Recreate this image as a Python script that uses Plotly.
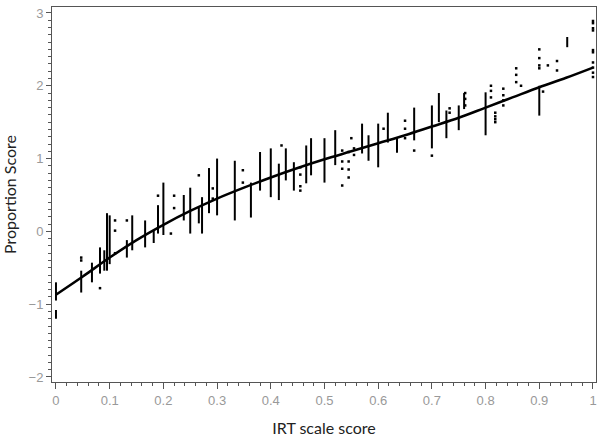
import plotly.graph_objects as go

# fitted curve
curve_x = [0, 0.05, 0.1, 0.15, 0.2, 0.25, 0.3, 0.35, 0.4, 0.45, 0.5,
           0.55, 0.6, 0.65, 0.7, 0.75, 0.8, 0.85, 0.9, 0.95, 1.0]
curve_y = [-0.87, -0.62, -0.36, -0.12, 0.09, 0.28, 0.45, 0.60, 0.74, 0.87, 0.99,
           1.10, 1.21, 1.32, 1.44, 1.56, 1.70, 1.84, 1.98, 2.11, 2.25]

# dense columns of observations: x, lowest y, highest y
col_x = [0.0, 0.0, 0.047, 0.067, 0.082, 0.09, 0.095, 0.1, 0.132, 0.142,
         0.166, 0.182, 0.19, 0.2, 0.238, 0.25, 0.266, 0.272, 0.285, 0.3,
         0.333, 0.363, 0.38, 0.4, 0.415, 0.428, 0.443, 0.466, 0.475, 0.5,
         0.52, 0.57, 0.582, 0.6, 0.618, 0.635, 0.667, 0.7, 0.713, 0.727,
         0.75, 0.76, 0.8, 0.9, 0.952]
col_lo = [-0.95, -1.20, -0.84, -0.70, -0.58, -0.54, -0.54, -0.45, -0.36, -0.26,
          -0.22, -0.16, -0.03, -0.05, 0.15, -0.03, 0.11, -0.03, 0.25, 0.22,
          0.15, 0.19, 0.56, 0.47, 0.43, 0.70, 0.56, 0.66, 0.77, 0.67,
          0.91, 1.07, 0.97, 0.88, 1.22, 1.08, 1.25, 1.14, 1.50, 1.28,
          1.39, 1.68, 1.32, 1.59, 2.53]
col_hi = [-0.70, -1.08, -0.54, -0.43, -0.22, -0.26, 0.25, 0.22, -0.12, 0.22,
          0.15, 0.01, 0.36, 0.67, 0.50, 0.60, 0.33, 0.47, 0.87, 1.00,
          0.97, 0.67, 1.09, 1.14, 0.93, 1.14, 0.95, 1.18, 1.28, 1.28,
          1.39, 1.48, 1.32, 1.48, 1.63, 1.29, 1.70, 1.73, 1.90, 1.66,
          1.73, 1.90, 1.91, 2.00, 2.67]

# scattered single observations
pts_x = [0.047, 0.047, 0.082, 0.11, 0.11, 0.11, 0.132, 0.19, 0.214, 0.22,
         0.22, 0.266, 0.292, 0.292, 0.348, 0.348, 0.42, 0.455, 0.455, 0.455,
         0.455, 0.533, 0.533, 0.533, 0.533, 0.545, 0.545, 0.545, 0.545, 0.55,
         0.555, 0.555, 0.61, 0.65, 0.65, 0.65, 0.667, 0.7, 0.733, 0.733,
         0.762, 0.762, 0.762, 0.81, 0.81, 0.81, 0.818, 0.818, 0.818, 0.818,
         0.833, 0.833, 0.833, 0.833, 0.857, 0.857, 0.857, 0.866, 0.9, 0.9,
         0.9, 0.9, 0.907, 0.916, 0.933, 0.933, 1.0, 1.0, 1.0, 1.0,
         1.0, 1.0, 1.0, 1.0, 1.0, 1.0]
pts_y = [-0.36, -0.40, -0.78, 0.15, 0.01, -0.30, 0.15, 0.49, -0.03, 0.49,
         0.32, 0.77, 0.59, 0.45, 0.84, 0.67, 1.18, 0.88, 0.78, 0.62,
         0.56, 1.11, 0.96, 0.86, 0.63, 1.09, 0.96, 0.85, 0.74, 1.28,
         1.14, 1.05, 1.41, 1.52, 1.41, 1.28, 1.11, 1.04, 1.69, 1.63,
         1.90, 1.82, 1.73, 2.00, 1.93, 1.84, 1.63, 1.58, 1.54, 1.50,
         1.96, 1.87, 1.80, 1.73, 2.24, 2.15, 2.05, 2.00, 2.50, 2.38,
         2.28, 2.24, 1.92, 2.28, 2.34, 2.21, 2.89, 2.86, 2.79, 2.76,
         2.49, 2.46, 2.32, 2.25, 2.18, 2.12]

seg_x, seg_y = [], []
for x, lo, hi in zip(col_x, col_lo, col_hi):
    seg_x += [x, x, None]
    seg_y += [lo, hi, None]

fig = go.Figure()
fig.add_trace(go.Scatter(x=seg_x, y=seg_y, mode="lines",
                         line=dict(color="black", width=2), hoverinfo="skip"))
fig.add_trace(go.Scatter(x=pts_x, y=pts_y, mode="markers",
                         marker=dict(color="black", size=2.5, symbol="square")))
fig.add_trace(go.Scatter(x=curve_x, y=curve_y, mode="lines",
                         line=dict(color="black", width=2.5, shape="spline")))

axis_common = dict(showline=True, linecolor="#555", linewidth=1, mirror=True,
                   ticks="outside", tickcolor="#555", showgrid=False, zeroline=False,
                   automargin=False,
                   tickfont=dict(family="Liberation Sans", size=13, color="#999"))

fig.update_xaxes(range=[-0.0074, 1.0056], tickmode="linear", tick0=0, dtick=0.1,
                 ticklen=6, tickformat="~g",
                 minor=dict(ticks="outside", dtick=0.02, ticklen=3, tickcolor="#555"),
                 title=dict(text="IRT scale score", standoff=16,
                            font=dict(family="Lato", size=16, color="#222")),
                 **axis_common)
fig.update_yaxes(range=[-2.069, 3.082], tickmode="linear", tick0=-2, dtick=1,
                 ticklen=5,
                 minor=dict(ticks="outside", dtick=0.1, ticklen=3, tickcolor="#555"),
                 title=dict(text="Proportion Score", standoff=8,
                            font=dict(family="Lato", size=16, color="#222")),
                 **axis_common)

fig.update_layout(width=600, height=437, showlegend=False,
                  margin=dict(l=52, r=4, t=7, b=55),
                  plot_bgcolor="white", paper_bgcolor="white")

fig.write_html("out.html", config={"displayModeBar": False},
               post_script="document.body.style.margin='0';document.body.style.overflow='hidden';")
